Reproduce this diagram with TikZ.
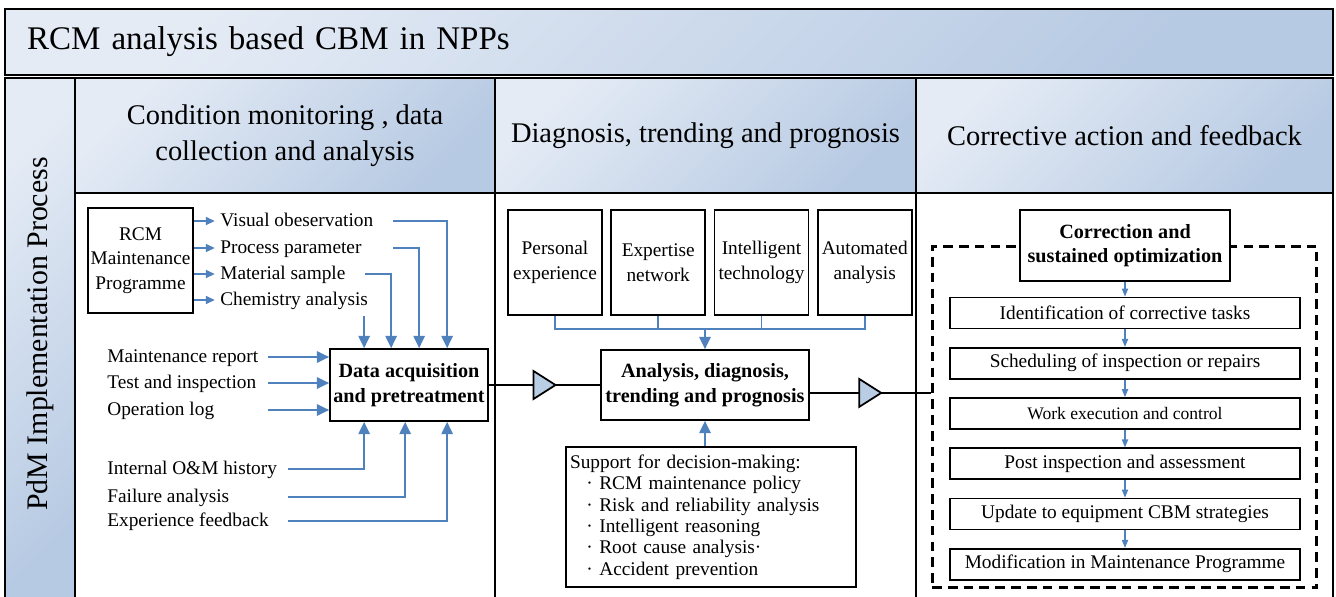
\documentclass[tikz,border=0pt]{standalone}
\usepackage{fontspec}
\setmainfont{Liberation Serif}
\usepackage{xcolor}
\usepackage{tikz}
\usetikzlibrary{arrows.meta, positioning, calc}
\definecolor{bleuclair}{HTML}{E4EBF5}
\definecolor{bleufonce}{HTML}{B7CAE3}
\definecolor{bleuflux}{HTML}{4F81BD}
\definecolor{pointebleu}{HTML}{B9CDE5}
\tikzset{
  bande/.style={rectangle, draw=black, line width=1.3pt, top color=bleuclair,
    bottom color=bleufonce, shading angle=45, inner sep=0pt},
  colonne/.style={draw=black, line width=1.3pt},
  titrecol/.style={bande, font=\fontsize{16.2}{20.5}\selectfont, align=center,
    minimum height=2.3cm},
  boite/.style={rectangle, draw=black, line width=1pt, fill=white,
    font=\fontsize{11}{14}\selectfont, align=center, inner sep=1pt},
  boitegras/.style={boite, font=\fontsize{11.5}{14}\selectfont\bfseries},
  etape/.style={boite, minimum width=7cm, minimum height=0.62cm},
  etiquette/.style={font=\fontsize{11}{14}\selectfont, anchor=west, inner sep=0pt,
    text height=1.5ex, text depth=0.25ex},
  fleche/.style={-{Triangle[length=7pt, width=6.5pt]}, color=bleuflux, line width=1pt},
  flechecourte/.style={-{Triangle[length=5pt, width=4.5pt]}, color=bleuflux, line width=1pt},
  flechefine/.style={-{Triangle[length=4.5pt, width=3.5pt]}, color=bleuflux, line width=0.7pt},
  lien/.style={color=bleuflux, line width=1pt},
  liaison/.style={line width=1pt, color=black},
  pointe/.style={draw=black, line width=1pt, fill=pointebleu, line join=miter},
  pointilles/.style={rectangle, draw=black, line width=1.7pt, dash pattern=on 5.5pt off 3.5pt}
}
\begin{document}
\begin{tikzpicture}[x=0.02cm, y=-0.02cm]
  \useasboundingbox (0,0) rectangle (1336,596);
  \clip (0,0) rectangle (1336,596);
  % bandeau et colonnes
  \node[bande, minimum width=26.56cm, minimum height=1.32cm, text width=25.68cm,
    inner xsep=0.44cm, align=left, font=\fontsize{18.8}{22}\selectfont] (titre) at (669,42) {RCM analysis based CBM in NPPs};
  \node[bande, minimum width=1.4cm, minimum height=10.64cm] (cote) at (40,344) {};
  \node[rotate=90, font=\fontsize{17}{20}\selectfont] (processus) at (40,334) {PdM Implementation Process};
  \node[titrecol, minimum width=8.4cm] (tete1) at (285,135.5) {Condition monitoring , data\\collection and analysis};
  \node[titrecol, minimum width=8.42cm] (tete2) at (705.5,135.5) {Diagnosis, trending and prognosis};
  \node[titrecol, minimum width=8.34cm] (tete3) at (1124.5,135.5) {Corrective action and feedback};
  \draw[colonne] (75,193) rectangle (495,620);
  \draw[colonne] (495,193) rectangle (916,620);
  \draw[colonne] (916,193) rectangle (1333,620);

  % colonne 1
  \node[boite, minimum width=2.1cm, minimum height=2.1cm] (rcm) at (140.5,260.5) {RCM\\Maintenance\\Programme};
  \node[etiquette] (visuel) at (220,221) {Visual obeservation};
  \node[etiquette] (procede) at (220,248) {Process parameter};
  \node[etiquette] (materiau) at (220,274) {Material sample};
  \node[etiquette] (chimie) at (220,300) {Chemistry analysis};
  \draw[flechecourte] (rcm.east |- visuel.west) -- ([xshift=-3pt]visuel.west);
  \draw[flechecourte] (rcm.east |- procede.west) -- ([xshift=-3pt]procede.west);
  \draw[flechecourte] (rcm.east |- materiau.west) -- ([xshift=-3pt]materiau.west);
  \draw[flechecourte] (rcm.east |- chimie.west) -- ([xshift=-3pt]chimie.west);

  \node[boitegras, minimum width=3.16cm, minimum height=1.44cm] (acquis) at (409,385) {Data acquisition\\and pretreatment};
  \draw[fleche] ($(visuel.west)+(173,0)$) -| ($(acquis.north west)+(118,0)$);
  \draw[fleche] ($(procede.west)+(173,0)$) -| ($(acquis.north west)+(90,0)$);
  \draw[fleche] ($(materiau.west)+(145,0)$) -| ($(acquis.north west)+(62,0)$);
  \draw[fleche] ([yshift=-5pt]chimie.south -| {$(acquis.north west)+(35,0)$}) -- ($(acquis.north west)+(35,0)$);

  \node[etiquette] (rapport) at (107,357) {Maintenance report};
  \node[etiquette] (essai) at (107,383) {Test and inspection};
  \node[etiquette] (journal) at (107,410) {Operation log};
  \draw[fleche] ($(rapport.west)+(161,0)$) -- (rapport.west -| acquis.west);
  \draw[fleche] ($(essai.west)+(161,0)$) -- (essai.west -| acquis.west);
  \draw[fleche] ($(journal.west)+(161,0)$) -- (journal.west -| acquis.west);

  \node[etiquette] (historique) at (107,469) {Internal O\&M history};
  \node[etiquette] (defaillance) at (107,497) {Failure analysis};
  \node[etiquette] (retour) at (107,521) {Experience feedback};
  \draw[fleche] ($(historique.west)+(181,0)$) -| ($(acquis.south west)+(35,0)$);
  \draw[fleche] ($(defaillance.west)+(181,0)$) -| ($(acquis.south west)+(76,0)$);
  \draw[fleche] ($(retour.west)+(181,0)$) -| ($(acquis.south west)+(118,0)$);

  % colonne 2
  \node[boite, minimum width=1.88cm, minimum height=2.1cm] (personnel) at (555,262.5) {Personal\\experience};
  \node[boite, minimum width=1.88cm, minimum height=2.1cm, right=0.15cm of personnel] (expertise) {Expertise\\network};
  \node[boite, minimum width=1.88cm, minimum height=2.1cm, right=0.15cm of expertise] (intelligent) {Intelligent\\technology};
  \node[boite, minimum width=1.88cm, minimum height=2.1cm, right=0.15cm of intelligent] (automatise) {Automated\\analysis};
  \node[boitegras, minimum width=4.16cm, minimum height=1.4cm] (analyse) at (705,385) {Analysis, diagnosis,\\trending and prognosis};
  \coordinate (jonction) at ($(analyse.north)+(0,-20)$);
  \draw[lien] (personnel.south) |- (jonction) -| (automatise.south);
  \draw[lien] (expertise.south) -- (expertise.south |- jonction);
  \draw[lien] (intelligent.south) -- (intelligent.south |- jonction);
  \draw[fleche] (jonction) -- (analyse.north);

  \node[boite, align=left, text width=5.64cm, inner xsep=0.08cm, minimum height=2.8cm,
    font=\fontsize{11}{12.2}\selectfont] (aide) at (711,517) {Support for decision-making:\\
    \hspace*{0.85em}· RCM maintenance policy\\
    \hspace*{0.85em}· Risk and reliability analysis\\
    \hspace*{0.85em}· Intelligent reasoning\\
    \hspace*{0.85em}· Root cause analysis·\\
    \hspace*{0.85em}· Accident prevention};
  \draw[fleche] (aide.north -| analyse.south) -- (analyse.south);

  % colonne 3
  \node[pointilles, minimum width=7.7cm, minimum height=6.84cm] (cadre) at (1124.5,417) {};
  \node[boitegras, minimum width=4.2cm, minimum height=1.42cm] (correction) at (1125,245.5) {Correction and\\sustained optimization};
  \node[etape] (identif) at (1125,313) {Identification of corrective tasks};
  \node[etape, below=0.35cm of identif] (planif) {Scheduling of inspection or repairs};
  \node[etape, below=0.35cm of planif, font=\fontsize{10}{12}\selectfont] (execution) {Work execution and control};
  \node[etape, below=0.35cm of execution] (postinsp) {Post inspection and assessment};
  \node[etape, below=0.35cm of postinsp] (miseajour) {Update to equipment CBM strategies};
  \node[etape, below=0.35cm of miseajour] (modif) {Modification in Maintenance Programme};
  \draw[flechefine] (correction) -- (identif);
  \draw[flechefine] (identif) -- (planif);
  \draw[flechefine] (planif) -- (execution);
  \draw[flechefine] (execution) -- (postinsp);
  \draw[flechefine] (postinsp) -- (miseajour);
  \draw[flechefine] (miseajour) -- (modif);

  % liaisons entre colonnes
  \draw[liaison] (acquis.east) -- coordinate (milieu1) (analyse.west);
  \draw[pointe] ($(milieu1)+(-11,-14)$) -- ($(milieu1)+(11,0)$) -- ($(milieu1)+(-11,14)$) -- cycle;
  \draw[liaison] ([yshift=-4.5pt]analyse.east) -- coordinate (milieu2) ([yshift=-4.5pt]analyse.east -| cadre.west);
  \draw[pointe] ($(milieu2)+(-11,-14)$) -- ($(milieu2)+(11,0)$) -- ($(milieu2)+(-11,14)$) -- cycle;
\end{tikzpicture}
\end{document}
